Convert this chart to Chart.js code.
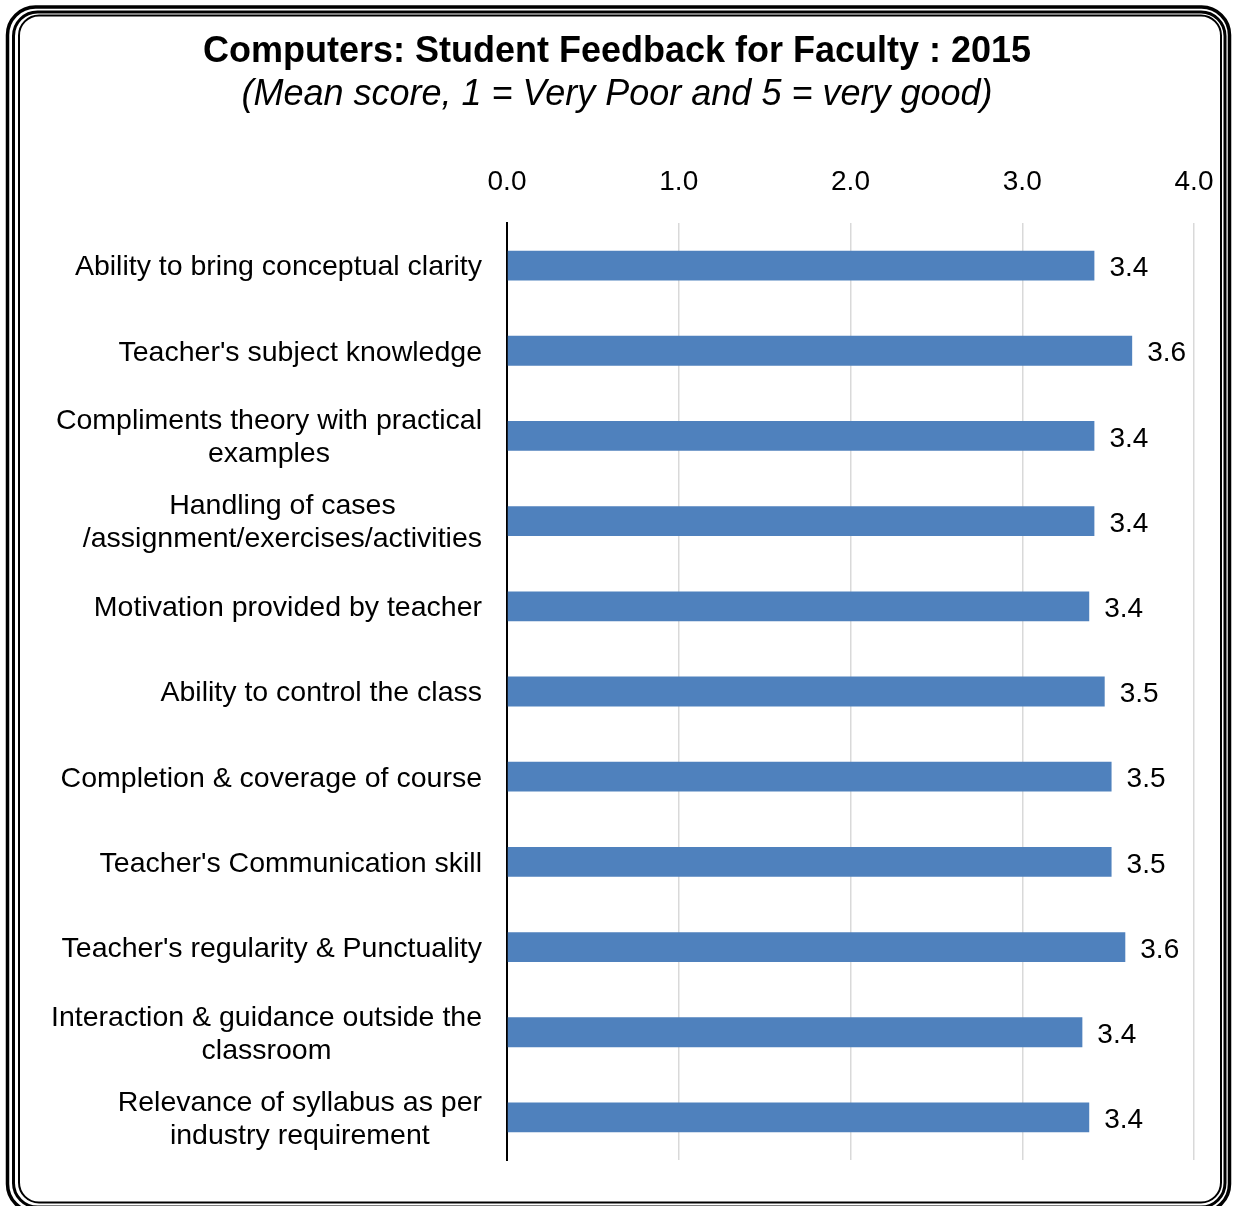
<!DOCTYPE html>
<html>
<head>
<meta charset="utf-8">
<script src="https://cdn.jsdelivr.net/npm/chart.js@4"></script>
<style>
  html, body { margin: 0; padding: 0; background: #ffffff; }
  #wrap { width: 1234px; height: 1206px; position: relative; }
</style>
</head>
<body>
<div id="wrap"><canvas id="c" width="1234" height="1206"></canvas></div>
<script>
const categories = [
  ["Ability to bring conceptual clarity"],
  ["Teacher's subject knowledge"],
  ["Compliments theory with practical", "examples"],
  ["Handling of cases", "/assignment/exercises/activities"],
  ["Motivation provided by teacher"],
  ["Ability to control the class"],
  ["Completion & coverage of course"],
  ["Teacher's Communication skill"],
  ["Teacher's regularity & Punctuality"],
  ["Interaction & guidance outside the", "classroom"],
  ["Relevance of syllabus as per", "industry requirement"]
];
const meanScores = [3.42, 3.64, 3.42, 3.42, 3.39, 3.48, 3.52, 3.52, 3.60, 3.35, 3.39];
const xTicks = [0, 1, 2, 3, 4];

const FONT = "'Liberation Sans', Arial, sans-serif";
const LABEL_RIGHT = 482;
const AXIS_LEFT = 507;
const PAD_SIDE = 40;

const frame = {
  id: 'frame',
  beforeDraw(chart) {
    const ctx = chart.ctx;
    ctx.save();
    ctx.fillStyle = '#ffffff';
    ctx.fillRect(0, 0, chart.width, chart.height);
    ctx.restore();
  },
  afterDraw(chart) {
    const ctx = chart.ctx;
    ctx.save();
    ctx.strokeStyle = '#000000';
    const rects = [
      [7.5, 7, 1229.5, 1212, 3.5, 28],
      [13.5, 12, 1225, 1207, 3, 24],
      [19, 15.5, 1221, 1202.5, 2, 20]
    ];
    rects.forEach(([l, t, r, b, lw, rad]) => {
      ctx.lineWidth = lw;
      ctx.beginPath();
      ctx.roundRect(l, t, r - l, b - t, rad);
      ctx.stroke();
    });
    ctx.restore();
  }
};

const catLabels = {
  id: 'catLabels',
  afterDraw(chart) {
    const ctx = chart.ctx;
    const yScale = chart.scales.y;
    ctx.save();
    ctx.font = "28.5px " + FONT;
    ctx.fillStyle = '#000000';
    ctx.textAlign = 'center';
    ctx.textBaseline = 'middle';
    const lh = 33;
    categories.forEach((lines, i) => {
      const y = yScale.getPixelForTick(i) + 2;
      const maxW = Math.max(...lines.map(s => ctx.measureText(s).width));
      const cx = LABEL_RIGHT - maxW / 2;
      const y0 = y - (lines.length - 1) * lh / 2;
      lines.forEach((s, k) => ctx.fillText(s, cx, y0 + k * lh));
    });
    ctx.restore();
  }
};

const valueLabels = {
  id: 'valueLabels',
  afterDatasetsDraw(chart) {
    const ctx = chart.ctx;
    const meta = chart.getDatasetMeta(0);
    ctx.save();
    ctx.font = "28px " + FONT;
    ctx.fillStyle = '#000000';
    ctx.textAlign = 'left';
    ctx.textBaseline = 'middle';
    meta.data.forEach((bar, i) => {
      ctx.fillText(meanScores[i].toFixed(1), bar.x + 15, bar.y + 3);
    });
    ctx.restore();
  }
};

new Chart(document.getElementById('c'), {
  type: 'bar',
  data: {
    labels: categories.map(l => l.join(' ')),
    datasets: [{
      data: meanScores,
      backgroundColor: '#4f81bd',
      borderWidth: 0,
      barPercentage: 0.7,
      categoryPercentage: 0.5
    }]
  },
  options: {
    indexAxis: 'y',
    responsive: false,
    animation: false,
    devicePixelRatio: 1,
    layout: { padding: { top: 0, right: PAD_SIDE, bottom: 46, left: PAD_SIDE } },
    plugins: {
      legend: { display: false },
      tooltip: { enabled: false },
      title: {
        display: true,
        text: 'Computers: Student Feedback for Faculty : 2015',
        color: '#000000',
        font: { family: FONT, size: 36, weight: 'bold' },
        padding: { top: 30.4, bottom: 0 }
      },
      subtitle: {
        display: true,
        text: '(Mean score, 1 = Very Poor and 5 = very good)',
        color: '#000000',
        font: { family: FONT, size: 36, style: 'italic' },
        padding: { top: 0, bottom: 24.6 }
      }
    },
    scales: {
      x: {
        position: 'top',
        min: 0,
        max: 4,
        afterBuildTicks(scale) { scale.ticks = xTicks.map(v => ({ value: v })); },
        afterFit(scale) { scale.paddingRight = 0; scale.paddingLeft = 0; },
        ticks: {
          color: '#000000',
          font: { family: FONT, size: 28 },
          padding: 24,
          callback: v => v.toFixed(1)
        },
        grid: { color: '#d9d9d9', lineWidth: 1.5, drawTicks: false },
        border: { display: false }
      },
      y: {
        afterFit(scale) { scale.width = AXIS_LEFT - PAD_SIDE; },
        ticks: { display: false },
        grid: { display: false, drawTicks: false },
        border: { display: true, color: '#000000', width: 2 }
      }
    }
  },
  plugins: [frame, catLabels, valueLabels]
});
</script>
</body>
</html>
